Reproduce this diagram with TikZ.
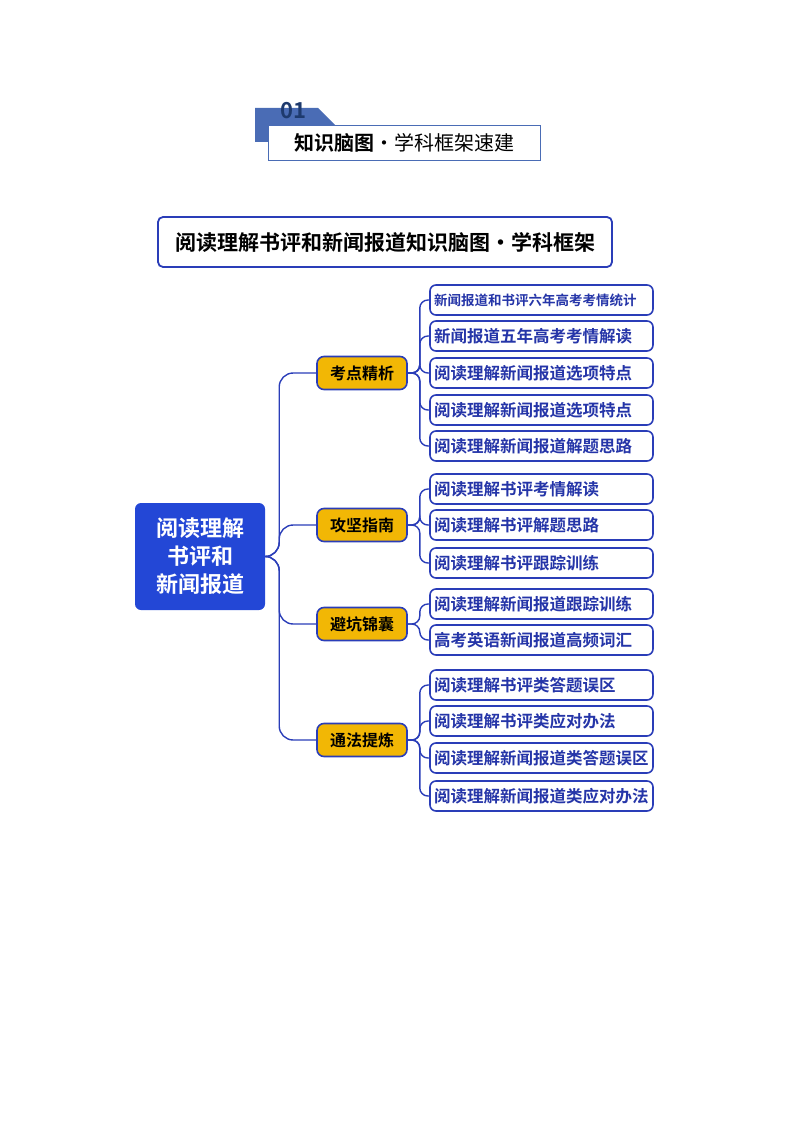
\documentclass[tikz,border=0pt]{standalone}
\usepackage{fontspec}
\setmainfont{Noto Sans CJK SC}
\newfontfamily\cjkb{Noto Sans CJK SC Bold}
\newfontfamily\cjkr{Noto Sans CJK SC}
\definecolor{nblue}{HTML}{2A3DB8}
\definecolor{tblue}{HTML}{2535A8}
\definecolor{gold}{HTML}{F2B705}
\definecolor{hblue}{HTML}{4A6CB5}
\definecolor{numblue}{HTML}{1E3A6E}
\definecolor{rootblue}{HTML}{2347D6}
\begin{document}
\begin{tikzpicture}[x=1pt,y=-1pt,
 leaf/.style={draw=nblue,line width=1.6pt,rounded corners=6pt,fill=white,minimum width=223pt,minimum height=30pt,inner xsep=4pt,inner ysep=0pt,text width=215pt,align=left,text=tblue,font=\cjkb\fontsize{16.5}{17}\selectfont},
 mid/.style={draw=nblue,line width=1.6pt,rounded corners=7pt,fill=gold,minimum width=90pt,minimum height=33pt,inner sep=0pt,font=\cjkb\fontsize{16}{17}\selectfont},
 conn/.style={draw=nblue,line width=1.4pt,rounded corners=14pt}]
\useasboundingbox (0,0) rectangle (794,1123);
% header
\fill[hblue] (255,108) -- (318,108) -- (335,125) -- (268,125) -- (268,142) -- (255,142) -- cycle;
\node[draw=hblue,line width=0.8pt,fill=white,minimum width=272pt,minimum height=35pt,inner sep=0pt] (hdr) at (404,142.5) {{\cjkb\fontsize{20}{20}\selectfont 知识脑图}{\cjkr\fontsize{20}{20}\selectfont ·学科框架速建}};
\node[text=numblue,font=\cjkb\fontsize{22}{22}\selectfont,inner sep=0pt] (num) at (293,111) {01};
% title
\node[draw=nblue,line width=1.8pt,rounded corners=5pt,fill=white,minimum width=454pt,minimum height=50pt,inner sep=0pt,font=\cjkb\fontsize{21}{22}\selectfont] (title) at (385,242) {阅读理解书评和新闻报道知识脑图·学科框架};
% root
\node[fill=rootblue,rounded corners=6pt,minimum width=130pt,minimum height=107pt,text=white,align=center,font=\cjkb\fontsize{22}{28}\selectfont] (root) at (200,556.5) {阅读理解\\书评和\\新闻报道};
% mids
\node[mid] (m1) at (362,373) {考点精析};
\node[mid] (m2) at (362,525) {攻坚指南};
\node[mid] (m3) at (362,624) {避坑锦囊};
\node[mid] (m4) at (362,740) {通法提炼};
% leaves
\node[leaf,font=\cjkb\fontsize{13.5}{14}\selectfont] (l1) at (541.5,300) {新闻报道和书评六年高考考情统计};
\node[leaf] (l2) at (541.5,336) {新闻报道五年高考考情解读};
\node[leaf] (l3) at (541.5,373) {阅读理解新闻报道选项特点};
\node[leaf] (l4) at (541.5,410) {阅读理解新闻报道选项特点};
\node[leaf] (l5) at (541.5,446) {阅读理解新闻报道解题思路};
\node[leaf] (l6) at (541.5,489) {阅读理解书评考情解读};
\node[leaf] (l7) at (541.5,525) {阅读理解书评解题思路};
\node[leaf] (l8) at (541.5,563) {阅读理解书评跟踪训练};
\node[leaf] (l9) at (541.5,604) {阅读理解新闻报道跟踪训练};
\node[leaf] (l10) at (541.5,640) {高考英语新闻报道高频词汇};
\node[leaf] (l11) at (541.5,685) {阅读理解书评类答题误区};
\node[leaf] (l12) at (541.5,721) {阅读理解书评类应对办法};
\node[leaf] (l13) at (541.5,758) {阅读理解新闻报道类答题误区};
\node[leaf] (l14) at (541.5,796) {阅读理解新闻报道类应对办法};
% connectors
\foreach \m in {m1,m2,m3,m4} \draw[conn] (root.east) -- ++(14,0) |- (\m.west);
\foreach \l in {l1,l2,l3,l4,l5} \draw[conn,rounded corners=8pt] (m1.east) -- ++(12,0) |- (\l.west);
\foreach \l in {l6,l7,l8} \draw[conn,rounded corners=8pt] (m2.east) -- ++(12,0) |- (\l.west);
\foreach \l in {l9,l10} \draw[conn,rounded corners=8pt] (m3.east) -- ++(12,0) |- (\l.west);
\foreach \l in {l11,l12,l13,l14} \draw[conn,rounded corners=8pt] (m4.east) -- ++(12,0) |- (\l.west);
\end{tikzpicture}
\end{document}
